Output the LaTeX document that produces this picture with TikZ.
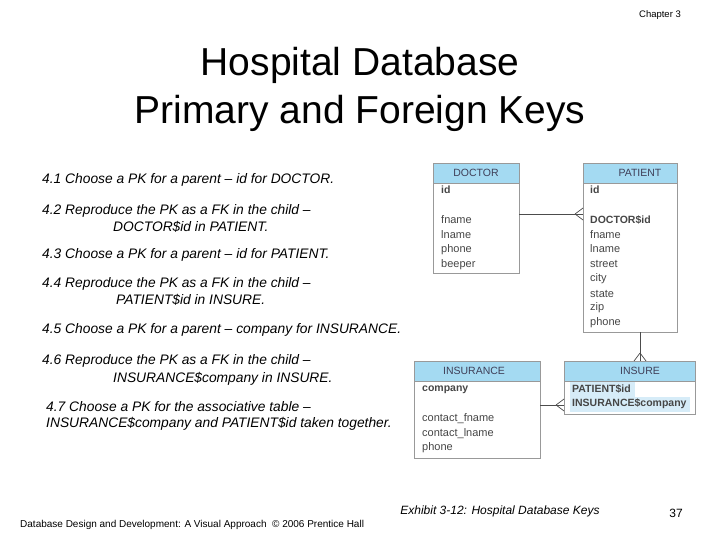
\documentclass[tikz,border=0pt]{standalone}
\usepackage{fontspec}
\setmainfont{Liberation Sans}
\definecolor{hdr}{RGB}{164,218,242}
\definecolor{hl}{RGB}{214,236,248}
\definecolor{fld}{RGB}{70,70,70}
\begin{document}
\begin{tikzpicture}[x=1pt,y=-1pt,
  tbl/.style={draw=gray!80,line width=0.7pt},
  hd/.style={fill=hdr,draw=gray!80,line width=0.7pt},
  hdt/.style={font=\fontsize{10.5}{12}\selectfont,text=fld!90!blue},
  ft/.style={anchor=west,font=\fontsize{11}{12}\selectfont,text=fld,inner sep=0pt},
  bt/.style={ft,font=\fontsize{10.5}{12}\selectfont\bfseries},
  tx/.style={anchor=west,font=\fontsize{13.8}{15}\selectfont\itshape,inner sep=0pt},
  rel/.style={draw=gray!60!black,line width=0.7pt}]
\useasboundingbox (0,0) rectangle (720,540);
\fill[white] (0,0) rectangle (720,540);
\node[font=\fontsize{9.5}{11}\selectfont] (ch) at (660,15) {Chapter 3};
\node[font=\fontsize{39}{48}\selectfont,align=center] (title) at (360,89) {Hospital Database\\Primary and Foreign Keys};
% left text
\node[tx] (t1) at (42,180) {4.1 Choose a PK for a parent -- id for DOCTOR.};
\node[tx] (t2) at (42,211) {4.2 Reproduce the PK as a FK in the child --};
\node[tx] (t2b) at (113,227) {DOCTOR\$id in PATIENT.};
\node[tx] (t3) at (42,255) {4.3 Choose a PK for a parent -- id for PATIENT.};
\node[tx] (t4) at (42,284) {4.4 Reproduce the PK as a FK in the child --};
\node[tx] (t4b) at (116,300) {PATIENT\$id in INSURE.};
\node[tx] (t5) at (42,330) {4.5 Choose a PK for a parent -- company for INSURANCE.};
\node[tx] (t6) at (42,361) {4.6 Reproduce the PK as a FK in the child --};
\node[tx] (t6b) at (113,379) {INSURANCE\$company in INSURE.};
\node[tx] (t7) at (46,407) {4.7 Choose a PK for the associative table --};
\node[tx] (t7b) at (46,424) {INSURANCE\$company and PATIENT\$id taken together.};
% DOCTOR
\draw[tbl] (433,183) rectangle (519,273);
\draw[hd] (433,163) rectangle (519,183);
\node[hdt] (doc) at (476,173) {DOCTOR};
\node[bt] at (441,190) {id};
\foreach \t/\y in {fname/220,lname/235,phone/250,beeper/265}\node[ft] at (441,\y) {\t};
% PATIENT
\draw[tbl] (583,183) rectangle (677,332);
\draw[hd] (583,163) rectangle (677,183);
\node[hdt] (pat) at (640,173) {PATIENT};
\node[bt] at (590,190) {id};
\node[bt] at (590,220) {DOCTOR\$id};
\foreach \t/\y in {fname/235,lname/249,street/264,city/279,state/294,zip/308,phone/323}\node[ft] at (590,\y) {\t};
% INSURANCE
\draw[tbl] (414,381) rectangle (540,458);
\draw[hd] (414,361) rectangle (540,381);
\node[hdt] (ins) at (474,371) {INSURANCE};
\node[bt] at (422,390) {company};
\foreach \t/\y in {contact\_fname/419,contact\_lname/434,phone/448}\node[ft] at (422,\y) {\t};
% INSURE
\fill[hl] (570,382) rectangle (635,397);
\fill[hl] (570,397) rectangle (690,412);
\draw[tbl] (564,381) rectangle (695,414);
\draw[hd] (564,361) rectangle (695,381);
\node[hdt] (isr) at (640,371) {INSURE};
\node[bt] at (572,389) {PATIENT\$id};
\node[bt] at (572,404) {INSURANCE\$company};
% relationships
\coordinate (a1) at (519,214); \coordinate (a2) at (583,214);
\draw[rel] (a1) -- (a2);
\draw[rel] (575,214) -- (583,208) (575,214) -- (583,220);
\coordinate (b1) at (640,332); \coordinate (b2) at (640,361);
\draw[rel] (b1) -- (b2);
\draw[rel] (640,353) -- (634,361) (640,353) -- (646,361);
\coordinate (c1) at (540,405); \coordinate (c2) at (564,405);
\draw[rel] (c1) -- (c2);
\draw[rel] (556,405) -- (564,399) (556,405) -- (564,411);
% footer
\node[font=\fontsize{12}{14}\selectfont\itshape] (ex) at (500,511) {Exhibit 3-12: Hospital Database Keys};
\node[font=\fontsize{12}{14}\selectfont] (pg) at (676,513) {37};
\node[anchor=west,font=\fontsize{10}{11}\selectfont,inner sep=0pt] (ft) at (20,525) {Database Design and Development: A Visual Approach \ \textcopyright\ 2006 Prentice Hall};
\end{tikzpicture}
\end{document}
